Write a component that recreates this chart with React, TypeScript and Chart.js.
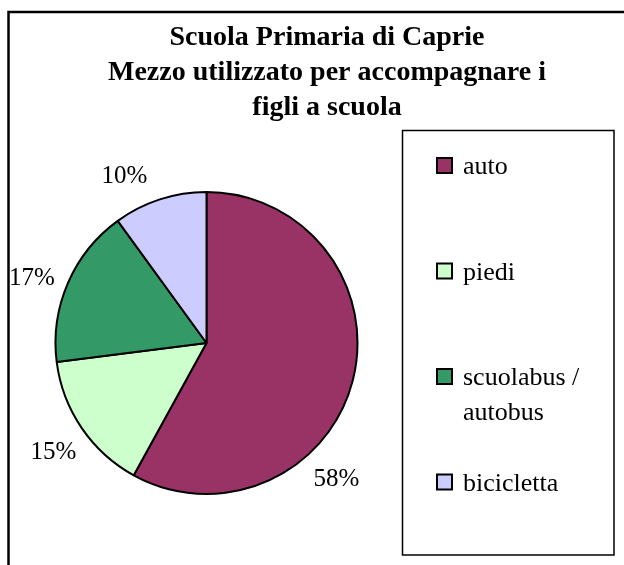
import React, { useEffect, useRef } from "react";
import { Chart, registerables } from "chart.js";

Chart.register(...registerables);

const titleLines = ["Scuola Primaria di Caprie", "Mezzo utilizzato per accompagnare i", "figli a scuola"];
const categories = ["auto", "piedi", "scuolabus / autobus", "bicicletta"];
const values = [58, 15, 17, 10];
const sliceColors = ["#993366", "#CCFFCC", "#339966", "#CCCCFF"];

const FONT = '"Liberation Serif", "Times New Roman", serif';

const framePlugin = {
  id: "frame",
  beforeDraw(chart: any) {
    const ctx = chart.ctx;
    ctx.save();
    ctx.fillStyle = "#ffffff";
    ctx.fillRect(0, 0, chart.width, chart.height);
    ctx.strokeStyle = "#000000";
    ctx.lineWidth = 2.5;
    ctx.strokeRect(8.5, 12, 700, 700);
    ctx.restore();
  },
};

const titlePlugin = {
  id: "serifTitle",
  afterDraw(chart: any) {
    const ctx = chart.ctx;
    ctx.save();
    ctx.fillStyle = "#000000";
    ctx.font = `bold 28px ${FONT}`;
    ctx.textAlign = "center";
    ctx.textBaseline = "alphabetic";
    titleLines.forEach((line, i) => {
      ctx.fillText(line, 327, 45 + i * 35);
    });
    ctx.restore();
  },
};

const percentPlugin = {
  id: "percentLabels",
  afterDatasetsDraw(chart: any, _args: any, opts: any) {
    const ctx = chart.ctx;
    const meta = chart.getDatasetMeta(0);
    const data = chart.data.datasets[0].data as number[];
    const total = data.reduce((a, b) => a + b, 0);
    const shifts: number[] = opts.angleShift || [];
    const fs = 25;
    ctx.save();
    ctx.fillStyle = "#000000";
    ctx.font = `${fs}px ${FONT}`;
    ctx.textAlign = "center";
    ctx.textBaseline = "alphabetic";
    meta.data.forEach((arc: any, i: number) => {
      const p = arc.getProps(["x", "y", "startAngle", "endAngle", "outerRadius"], true);
      const a = (p.startAngle + p.endAngle) / 2 + ((shifts[i] || 0) * Math.PI) / 180;
      const r = p.outerRadius + opts.distance;
      const x = p.x + r * Math.cos(a);
      const y = p.y + r * Math.sin(a);
      const pct = Math.round((data[i] / total) * 100) + "%";
      ctx.fillText(pct, x, y + fs * 0.338);
    });
    ctx.restore();
  },
};

const legendPlugin = {
  id: "boxLegend",
  afterDraw(chart: any) {
    const ctx = chart.ctx;
    const labels = chart.data.labels as string[];
    const colors = chart.data.datasets[0].backgroundColor as string[];
    const fs = 26;
    ctx.save();
    ctx.strokeStyle = "#000000";
    ctx.lineWidth = 1.5;
    ctx.strokeRect(402.5, 130.5, 211.5, 424.5);
    ctx.font = `${fs}px ${FONT}`;
    ctx.textAlign = "left";
    ctx.textBaseline = "alphabetic";
    const textX = 463;
    const maxW = 140;
    labels.forEach((label, i) => {
      const baseline = 174 + i * 105.5;
      ctx.fillStyle = colors[i];
      ctx.fillRect(437, baseline - 16, 15, 15);
      ctx.lineWidth = 2;
      ctx.strokeStyle = "#000000";
      ctx.strokeRect(437, baseline - 16, 15, 15);
      ctx.fillStyle = "#000000";
      const words = label.split(" ");
      const lines: string[] = [];
      let cur = "";
      words.forEach((w) => {
        const test = cur ? cur + " " + w : w;
        if (ctx.measureText(test).width > maxW && cur) {
          lines.push(cur);
          cur = w;
        } else {
          cur = test;
        }
      });
      if (cur) lines.push(cur);
      lines.forEach((ln, j) => ctx.fillText(ln, textX, baseline + j * 35));
    });
    ctx.restore();
  },
};

export default function App() {
  const ref = useRef<HTMLCanvasElement | null>(null);

  useEffect(() => {
    if (!ref.current) return;
    const chart = new Chart(ref.current, {
      type: "pie",
      data: {
        labels: categories,
        datasets: [
          {
            data: values,
            backgroundColor: sliceColors,
            borderColor: "#000000",
            borderWidth: 2,
          },
        ],
      },
      options: {
        responsive: false,
        animation: false,
        layout: { padding: { left: 54.5, top: 191, right: 265.5, bottom: 70 } },
        plugins: {
          legend: { display: false },
          title: { display: false },
          tooltip: { enabled: false },
          percentLabels: { distance: 36, angleShift: [31.6, -0.9, -2.5, -8] },
        } as any,
      },
      plugins: [framePlugin, titlePlugin, percentPlugin, legendPlugin],
    });
    return () => chart.destroy();
  }, []);

  return (
    <div style={{ position: "absolute", left: 0, top: 0, width: 624, height: 565 }}>
      <canvas ref={ref} width={624} height={565} style={{ display: "block" }} />
    </div>
  );
}
